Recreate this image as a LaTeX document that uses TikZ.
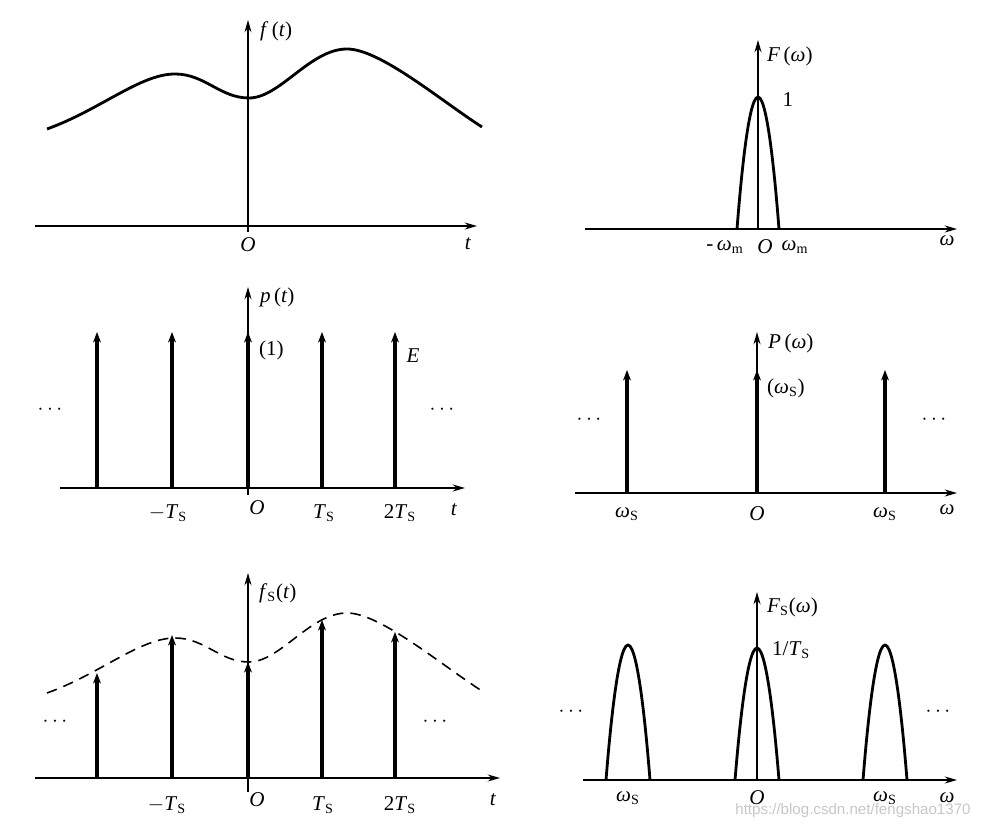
\documentclass[tikz,border=0pt]{standalone}
\usepackage{fontspec}
\setmainfont{Liberation Serif}
\newfontfamily\wmfont{Liberation Sans}
\usetikzlibrary{arrows.meta}
\newcommand\iv[1]{\textit{#1}}
\newcommand\sS{\textsubscript{S}}
\newcommand\sigcurve{(47,129) .. controls (100,110) and (140,74) .. (175,74) .. controls (205,74) and (220,98) .. (249,98) .. controls (280,98) and (310,49) .. (347,49) .. controls (380,49) and (440,100) .. (482,127)}
\begin{document}
\begin{tikzpicture}[x=0.02cm,y=-0.02cm,
 haxis/.style={line width=0.9pt,-{Stealth[length=7pt,width=4pt]}},
 vaxis/.style={line width=0.9pt,-{Stealth[length=7pt,width=4pt]}},
 thinaxis/.style={line width=0.6pt,-{Stealth[length=7pt,width=4pt]}},
 imp/.style={line width=1.8pt,-{Stealth[length=6pt,width=4.5pt]}},
 curve/.style={line width=1.6pt},
 lobe/.style={line width=1.6pt},
 lbl/.style={font=\fontsize{12}{14}\selectfont, inner sep=1pt},
 dots/.style={font=\bfseries\fontsize{12}{14}\selectfont, inner sep=0pt},
 wm/.style={font=\wmfont\fontsize{8.6}{10}\selectfont, text=black!22, inner sep=0pt}
]
\useasboundingbox (0,0) rectangle (990,830);

% ---------- Panel 1: f(t)
\draw[haxis] (35,226) -- (477,226);
\draw[thinaxis] (248,232) -- (248,20);
\draw[curve] \sigcurve;
\node[lbl,anchor=west] (l1f) at (258,31) {\iv{f}\,(\iv{t})};
\node[lbl] (l1o) at (248,245) {\iv{O}};
\node[lbl] (l1t) at (468,244) {\iv{t}};

% ---------- Panel 2: F(omega)
\draw[haxis] (585,229) -- (957,229);
\draw[vaxis] (758,229) -- (758,40);
\draw[lobe] (737,229) parabola bend (758,97) (779,229);
\node[lbl,anchor=west] (l2f) at (765,56) {\iv{F}\,(\iv{ω})};
\node[lbl] (l2one) at (788,100) {1};
\node[lbl] (l2m) at (725,247) {-\,\iv{ω}\textsubscript{m}};
\node[lbl] (l2o) at (765,247) {\iv{O}};
\node[lbl] (l2p) at (795,247) {\iv{ω}\textsubscript{m}};
\node[lbl] (l2w) at (947,241) {\iv{ω}};

% ---------- Panel 3: p(t)
\draw[haxis] (60,488) -- (465,488);
\draw[vaxis] (248,495) -- (248,287);
\foreach \x in {97,172,248,322,395}
  \draw[imp] (\x,488) -- (\x,332);
\node[lbl,anchor=west] (l3p) at (258,297) {\iv{p}\,(\iv{t})};
\node[lbl,anchor=west] (l3one) at (257,350) {(1)};
\node[lbl] (l3e) at (413,356) {\iv{E}};
\node[dots] (l3dl) at (50,410) {$\cdots$};
\node[dots] (l3dr) at (442,410) {$\cdots$};
\node[lbl] (l3a) at (168,513) {$-$\iv{T}\sS};
\node[lbl] (l3o) at (257,508) {\iv{O}};
\node[lbl] (l3b) at (324,513) {\iv{T}\sS};
\node[lbl] (l3c) at (400,513) {2\iv{T}\sS};
\node[lbl] (l3t) at (454,510) {\iv{t}};

% ---------- Panel 4: P(omega)
\draw[haxis] (575,493) -- (957,493);
\draw[vaxis] (757,493) -- (757,332);
\foreach \x in {627,757,885}
  \draw[imp] (\x,493) -- (\x,370);
\node[lbl,anchor=west] (l4p) at (766,343) {\iv{P}\,(\iv{ω})};
\node[lbl,anchor=west] (l4w) at (765,388) {(\iv{ω}\sS)};
\node[dots] (l4dl) at (589,420) {$\cdots$};
\node[dots] (l4dr) at (934,420) {$\cdots$};
\node[lbl] (l4a) at (627,514) {\iv{ω}\sS};
\node[lbl] (l4o) at (757,514) {\iv{O}};
\node[lbl] (l4b) at (885,514) {\iv{ω}\sS};
\node[lbl] (l4x) at (947,510) {\iv{ω}};

% ---------- Panel 5: f_s(t)
\draw[haxis] (35,778) -- (500,778);
\draw[thinaxis] (248,792) -- (248,573);
\begin{scope}[shift={(0,564)}]
  \draw[line width=0.9pt,dash pattern=on 6pt off 4pt] \sigcurve;
\end{scope}
\draw[imp] (97,778) -- (97,673);
\draw[imp] (172,778) -- (172,635);
\draw[imp] (248,778) -- (248,662);
\draw[imp] (322,778) -- (322,620);
\draw[imp] (395,778) -- (395,632);
\node[lbl,anchor=west] (l5f) at (257,593) {\iv{f}\sS(\iv{t})};
\node[dots] (l5dl) at (55,722) {$\cdots$};
\node[dots] (l5dr) at (435,722) {$\cdots$};
\node[lbl] (l5a) at (167,805) {$-$\iv{T}\sS};
\node[lbl] (l5o) at (257,800) {\iv{O}};
\node[lbl] (l5b) at (323,805) {\iv{T}\sS};
\node[lbl] (l5c) at (400,805) {2\iv{T}\sS};
\node[lbl] (l5t) at (493,800) {\iv{t}};

% ---------- Panel 6: F_s(omega)
\draw[haxis] (583,780) -- (957,780);
\draw[vaxis] (757,780) -- (757,592);
\draw[lobe] (606,780) parabola bend (628,645) (650,780);
\draw[lobe] (735,780) parabola bend (757,648) (779,780);
\draw[lobe] (863,780) parabola bend (885,645) (907,780);
\node[lbl,anchor=west] (l6f) at (765,607) {\iv{F}\sS(\iv{ω})};
\node[lbl,anchor=west] (l6h) at (770,650) {1/\iv{T}\sS};
\node[dots] (l6dl) at (571,712) {$\cdots$};
\node[dots] (l6dr) at (938,712) {$\cdots$};
\node[lbl] (l6a) at (628,798) {\iv{ω}\sS};
\node[lbl] (l6o) at (757,798) {\iv{O}};
\node[lbl] (l6b) at (885,798) {\iv{ω}\sS};
\node[lbl] (l6x) at (947,798) {\iv{ω}};
\node[wm,anchor=west] (wmark) at (735,811) {https://blog.csdn.net/fengshao1370};
\end{tikzpicture}
\end{document}
